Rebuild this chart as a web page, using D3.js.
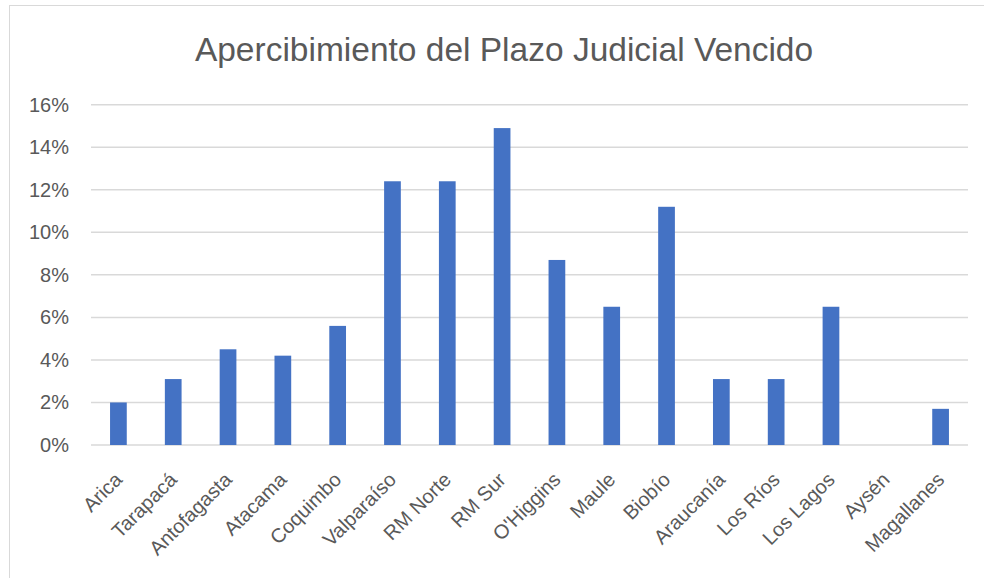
<!DOCTYPE html>
<html>
<head>
<meta charset="utf-8">
<script src="https://cdn.jsdelivr.net/npm/d3@7"></script>
<style>
  body { margin: 0; background: #fff; }
  text { font-family: "Liberation Sans", Arial, sans-serif; fill: #595959; }
</style>
</head>
<body>
<div id="chart"></div>
<script>
var width = 984;
var height = 578;

// regiones y porcentajes
var regiones = ["Arica", "Tarapacá", "Antofagasta", "Atacama", "Coquimbo", "Valparaíso",
    "RM Norte", "RM Sur", "O'Higgins", "Maule", "Biobío", "Araucanía", "Los Ríos",
    "Los Lagos", "Aysén", "Magallanes"];
var valores = [0.020, 0.031, 0.045, 0.042, 0.056, 0.124, 0.124, 0.149, 0.087, 0.065,
    0.112, 0.031, 0.031, 0.065, 0, 0.017];
var yTicks = [0, 0.02, 0.04, 0.06, 0.08, 0.10, 0.12, 0.14, 0.16];
var titulo = "Apercibimiento del Plazo Judicial Vencido";

var margin = { top: 104.7, right: 16, bottom: 133, left: 91 };

const svg = d3.select("#chart")
    .append("svg")
    .attr("width", width)
    .attr("height", height);

// borde del area del grafico
svg.append("rect")
    .attr("x", 9.5)
    .attr("y", 5.5)
    .attr("width", width)
    .attr("height", height)
    .attr("fill", "none")
    .attr("stroke", "#d9d9d9")
    .attr("stroke-width", 1);

svg.append("text")
    .attr("x", 504)
    .attr("y", 61)
    .attr("text-anchor", "middle")
    .attr("font-size", 33.5)
    .text(titulo);

var x = d3.scaleBand()
    .domain(regiones)
    .range([margin.left, width - margin.right])
    .paddingInner(0.695)
    .paddingOuter(0.3475);

var y = d3.scaleLinear()
    .domain([0, 0.16])
    .range([height - margin.bottom, margin.top]);

// lineas de division
svg.selectAll(".grid")
    .data(yTicks)
    .enter().append("line")
    .attr("class", "grid")
    .attr("x1", margin.left)
    .attr("x2", width - margin.right)
    .attr("y1", function (d) { return y(d); })
    .attr("y2", function (d) { return y(d); })
    .attr("stroke", "#d9d9d9")
    .attr("stroke-width", 1.5);

svg.selectAll(".ylabel")
    .data(yTicks)
    .enter().append("text")
    .attr("class", "ylabel")
    .attr("x", 69)
    .attr("y", function (d) { return y(d); })
    .attr("dy", "0.35em")
    .attr("text-anchor", "end")
    .attr("font-size", 20)
    .text(d3.format(".0%"));

svg.selectAll(".bar")
    .data(valores)
    .enter().append("rect")
    .attr("class", "bar")
    .attr("x", function (d, i) { return x(regiones[i]); })
    .attr("y", function (d) { return y(d); })
    .attr("width", x.bandwidth())
    .attr("height", function (d) { return y(0) - y(d); })
    .attr("fill", "#4472c4");

// etiquetas del eje x giradas
svg.selectAll(".xlabel")
    .data(regiones)
    .enter().append("text")
    .attr("class", "xlabel")
    .attr("text-anchor", "end")
    .attr("font-size", 20)
    .attr("transform", function (d) {
        return "translate(" + (x(d) + x.bandwidth() / 2 + 5) + "," + 481 + ") rotate(-45)";
    })
    .text(function (d) { return d; });
</script>
</body>
</html>
